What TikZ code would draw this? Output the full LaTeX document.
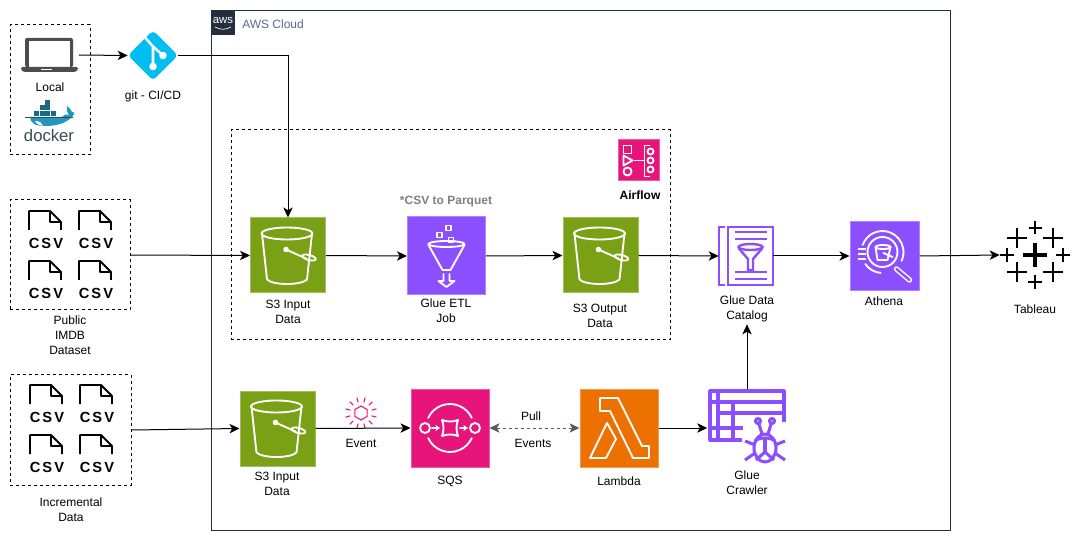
\documentclass[tikz,border=0pt]{standalone}
\usepackage{fontspec}
\setmainfont{Liberation Sans}
\newfontfamily\csvfont[LetterSpace=14]{Liberation Sans}
\usetikzlibrary{arrows.meta}

\definecolor{awsdark}{HTML}{232F3E}
\definecolor{awsgray}{HTML}{5A6B86}
\definecolor{s3green}{HTML}{7AA116}
\definecolor{gluepurple}{HTML}{8C4FFF}
\definecolor{sqspink}{HTML}{E7157B}
\definecolor{lambdaorange}{HTML}{ED7100}
\definecolor{gitblue}{HTML}{00BDF2}
\definecolor{laptopgray}{HTML}{4D4D4D}
\definecolor{whaleblue}{HTML}{2396C0}
\definecolor{dockertext}{HTML}{394D54}
\definecolor{pullgray}{HTML}{545B64}

\tikzset{
    lbl/.style={align=center,inner sep=1.5pt,font=\fontsize{9}{11.25}\selectfont},
    iconbox/.style 2 args={minimum size=#1*0.75pt,inner sep=0pt,fill=#2,draw=#2!70!white,line width=.75pt},
    spacer/.style 2 args={minimum width=#1*0.75pt,minimum height=#2*0.75pt,inner sep=0pt},
    flow/.style={line width=.75pt,-{Stealth[length=7.5pt,width=7pt,inset=2pt]}},
    dashbox/.style={draw,dash pattern=on 2.25pt off 2.25pt,line width=.75pt},
    whiteline/.style={draw=white,line width=1.4pt,line join=round,line cap=round},
    purpleline/.style={draw=gluepurple,line width=1.8pt,line join=miter},
    crawlerline/.style={draw=gluepurple,line width=2.3pt,line join=round},
    bucket/.pic={
        \draw[whiteline] (-26,-22) -- (-21,24) .. controls (-15,30) and (13,30) .. (19,24) -- (24,-22);
        \draw[whiteline] (-1,-22) ellipse [x radius=25.5,y radius=6];
        \fill[white] (-2,-6) circle [radius=2.8];
        \draw[whiteline] (-2,-6) -- (18,3);
        \draw[whiteline,shift={(21,2)},rotate=-15] (0,0) ellipse [x radius=7,y radius=2.5];
    },
    funnel/.pic={
        \draw[whiteline] (0,-12) ellipse [x radius=18,y radius=3];
        \draw[whiteline] (-18,-11) -- (-4,14) -- (4,14) -- (18,-11);
        \draw[whiteline] (-3,18) -- (-3,25) -- (-8,25) -- (0,31) -- (8,25) -- (3,25) -- (3,18);
        \foreach \sx/\sy in {-7/-21,2/-28,4.5/-16}
            \draw[whiteline] (\sx-2.5,\sy-2.5) rectangle (\sx+2.5,\sy+2.5);
    },
    airflowicon/.pic={
        \draw[whiteline] (-15,-15) rectangle (-7,-7);
        \draw[whiteline] (-15,-5) -- (-6,0) -- (-15,5) -- cycle;
        \draw[whiteline] (-11,11) circle [radius=4];
        \draw[whiteline] (-4,0) -- (5,0);
        \draw[whiteline] (11,-15) -- (6,-15) -- (6,16) -- (11,16);
        \foreach \sy in {-9,0,9}
            \draw[whiteline] (12,\sy) circle [radius=3];
    },
    catalogicon/.pic={
        \draw[purpleline] (-21,-29) -- (-27,-29) -- (-27,29) -- (-21,29);
        \draw[purpleline] (-18,-29) rectangle (27,29);
        \foreach \sy in {-24,-17,16,23}
            \draw[purpleline] (-11,\sy) -- (21,\sy);
        \draw[purpleline] (4.5,-9) ellipse [x radius=12,y radius=3];
        \draw[purpleline] (-7.5,-8) -- (2,3) -- (2,14) -- (7,14) -- (7,3) -- (16.5,-8);
    },
    athenaicon/.pic={
        \draw[whiteline] (-2,-4) circle [radius=15];
        \draw[whiteline] (-2,-4) ++(200:21) arc [start angle=200,end angle=385,radius=21];
        \draw[whiteline] (-2,-4) ++(95:21) arc [start angle=95,end angle=145,radius=21];
        \foreach \sy in {-7,-2,3}
            \draw[whiteline] (-26,\sy) -- (-19,\sy);
        \draw[whiteline] (-9,-9) -- (-7,4) -- (3,4) -- (6,-9);
        \draw[whiteline] (-1.5,-9) ellipse [x radius=7.5,y radius=2];
        \draw[whiteline] (-1,-3) -- (8,1);
        \draw[white,line width=4pt,line cap=round] (12,13) -- (25,24);
        \draw[gluepurple,line width=1.8pt,line cap=round] (12,13) -- (25,24);
    },
    sqsicon/.pic={
        \draw[whiteline] (0,0) ++(205:24) arc [start angle=205,end angle=335,radius=24];
        \draw[whiteline] (0,0) ++(155:24) arc [start angle=155,end angle=25,radius=24];
        \draw[whiteline] (-25,0) circle [radius=5];
        \draw[whiteline] (25,0) circle [radius=5];
        \draw[whiteline,-{Stealth[length=3.5pt,width=4.5pt]}] (-18,0) -- (-10,0);
        \draw[whiteline,-{Stealth[length=3.5pt,width=4.5pt]}] (10,0) -- (18,0);
        \draw[whiteline] (-8,-8) .. controls (-3,-6) and (3,-6) .. (8,-8)
            .. controls (6,-3) and (6,3) .. (8,8)
            .. controls (3,6) and (-3,6) .. (-8,8)
            .. controls (-6,3) and (-6,-3) .. (-8,-8) -- cycle;
    },
    lambdaicon/.pic={
        \draw[whiteline] (-19,-30) -- (-1,-30) -- (23,18) -- (30,18) -- (30,30) -- (14,30) -- (-9,-17) -- (-19,-17) -- cycle;
        \draw[whiteline] (-12,-5) -- (-3,11) -- (-13,30) -- (-29,30) -- cycle;
    },
    crawlericon/.pic={
        \draw[crawlerline] (37,-6) -- (37,-37) -- (-37,-37) -- (-37,12) -- (-5,12);
        \draw[crawlerline] (-37,-26) -- (37,-26);
        \draw[crawlerline] (-29,-15) -- (37,-15);
        \draw[crawlerline] (-37,0) -- (-4,0);
        \draw[crawlerline] (-29,-37) -- (-29,12);
        \draw[crawlerline] (-14,-26) -- (-14,12);
        \draw[crawlerline] (18,20) ellipse [x radius=11,y radius=14];
        \draw[crawlerline] (8,13) .. controls (12,9) and (24,9) .. (28,13);
        \draw[crawlerline] (18,24) -- (9,32);
        \draw[crawlerline] (18,24) -- (27,32);
        \draw[crawlerline] (18,11) -- (18,24);
        \foreach \sg in {-1,1} {
            \draw[crawlerline] (18+\sg*7,-7) circle [radius=2.5];
            \draw[crawlerline] (18+\sg*6,-4) -- (18+\sg*3,6);
            \draw[crawlerline] (18+\sg*20,13) -- (18+\sg*10,17);
            \draw[crawlerline] (18+\sg*20,32) -- (18+\sg*10,25);
        }
    },
    csvdoc/.pic={
        \draw[line width=1.4pt,line join=round] (-16,-2) -- (-16,-21) -- (5,-21) -- (16,-10) -- (16,-2);
        \draw[line width=1.4pt,line join=round] (5,-21) -- (5,-10) -- (16,-10);
        \node (-txt) at (1,11) [inner sep=0pt,font=\csvfont\bfseries\fontsize{11}{11}\selectfont] {CSV};
    },
    laptop/.pic={
        \fill[laptopgray,rounded corners=1.5pt] (-25,-17) rectangle (23,12);
        \fill[white] (-21,-14) rectangle (20,12);
        \fill[laptopgray,rounded corners=1.5pt] (-29,12) -- (28,12) -- (28,15) -- (26,17) -- (-27,17) -- (-29,15) -- cycle;
        \fill[white] (-9,14) rectangle (2,15.5);
    },
    gitlogo/.pic={
        \fill[gitblue,rounded corners=3pt] (-25,0) -- (0,-25) -- (25,0) -- (0,25) -- cycle;
        \draw[white,line width=1.9pt] (-8,-18) -- (0,-9) -- (0,11);
        \draw[white,line width=1.9pt] (0,-9) -- (10,0);
        \fill[white] (0,11) circle [radius=3.8];
        \fill[white] (10,0) circle [radius=3.8];
    },
    whale/.pic={
        % containers on the back
        \foreach \sx/\sy in {-15/-5,-9.5/-5,-4/-5,1.5/-5,-9.5/-10.5,-4/-10.5,-4/-16}
            \fill[whaleblue!70!black] (\sx,\sy) rectangle (\sx+5,\sy+5);
        % body and tail
        \fill[whaleblue] (-19,1) -- (13,1) .. controls (16,-2) and (18,-2) .. (20,-1)
            .. controls (18,-4) and (17,-7) .. (18,-10) .. controls (20,-8) and (22,-7) .. (23,-4)
            .. controls (25,-4) and (27,-4) .. (23,1)
            .. controls (17,7) and (8,10) .. (-4,10) .. controls (-14,10) and (-19,7) .. (-19,1) -- cycle;
        \fill[white] (-14,5) .. controls (-9,5) and (-7,7) .. (-6,10) .. controls (-9,10) and (-12,8) .. (-14,5) -- cycle;
        \draw[dockertext,line width=.3pt] (-24,1) -- (24,1);
    },
    tableaulogo/.pic={
        \foreach \sx/\sy/\sa/\sw in {0/0/12/2.6,-18/-17/10/2.2,18/-17/10/2.2,-18/17/10/2.2,18/17/10/2.2,0/-27/6.5/1.2,0/27/7/1.7,-28/0/7/1.2,28/0/7/1.7} {
            \draw[line width=\sw pt] (\sx-\sa,\sy) -- (\sx+\sa,\sy);
            \draw[line width=\sw pt] (\sx,\sy-\sa) -- (\sx,\sy+\sa);
        }
    },
    eventicon/.pic={
        \draw[sqspink,line width=.8pt] (30:7) -- (90:7) -- (150:7) -- (210:7) -- (270:7) -- (330:7) -- cycle;
        \foreach \sa in {0,30,...,330}
            \draw[sqspink,line width=.8pt] (\sa+15:11) -- (\sa+15:16);
    }
}

\begin{document}
\begin{tikzpicture}[x=0.75pt,y=-0.75pt]
    \fill[white] (0,0) rectangle (1081,541);
    \useasboundingbox (0,0) rectangle (1081,541);

    % The cloud frame and its badge
    \draw[awsdark,line width=.75pt] (211,11) rectangle (950,530);
    \node (awsbadge) at (223,23) [minimum size=24*0.75pt,inner sep=0pt,fill=awsdark] {};
    \node (awslogo) at (223,20.5) [inner sep=0pt,text=white,font=\fontsize{8.5}{8.5}\selectfont] {aws};
    \draw[white,line width=.5pt] (215,27) .. controls (220,30) and (226,30) .. (231,27);
    \node (awstitle) at (242,24) [lbl,anchor=west,inner sep=0pt,text=awsgray] {AWS Cloud};

    % The dashed groups
    \node (localbox) at (50,90) [dashbox,spacer={80}{130}] {};
    \node (publicbox) at (70,255) [dashbox,spacer={120}{110}] {};
    \node (incrbox) at (70.5,430) [dashbox,spacer={121}{110}] {};
    \node (airflowbox) at (450.5,235) [dashbox,spacer={439}{210}] {};

    % Place the service boxes
    \node (laptopnode) at (50,55) [spacer={57}{35}] {};
    \node (git) at (153,55.5) [spacer={50}{50}] {};
    \node (s3in) at (288,255.5) [iconbox={75}{s3green}] {};
    \node (glueetl) at (446.5,256) [iconbox={78}{gluepurple}] {};
    \node (s3out) at (600.5,255.5) [iconbox={75}{s3green}] {};
    \node (airflow) at (638.5,160.5) [iconbox={41}{sqspink}] {};
    \node (catalog) at (746,256) [spacer={54}{59}] {};
    \node (athena) at (884.5,256) [iconbox={69}{gluepurple}] {};
    \node (tableau) at (1035,255) [spacer={70}{70}] {};
    \node (s3incr) at (277.5,428.5) [iconbox={75}{s3green}] {};
    \node (sqs) at (450,428) [iconbox={78}{sqspink}] {};
    \node (lambda) at (619,428) [iconbox={78}{lambdaorange}] {};
    \node (crawler) at (747,428) [spacer={79}{78}] {};

    % Draw the icons on top of the boxes
    \pic at (laptopnode) {laptop};
    \pic at (49,116) {whale};
    \node (dockerword) at (49,135.5) [inner sep=0pt,text=dockertext,font=\fontsize{12.5}{12.5}\selectfont] {docker};
    \pic at (git) {gitlogo};
    \pic at (s3in) {bucket};
    \pic at (glueetl) {funnel};
    \pic at (s3out) {bucket};
    \pic at (airflow) {airflowicon};
    \pic at (catalog) {catalogicon};
    \pic at (athena) {athenaicon};
    \pic at (tableau) {tableaulogo};
    \pic at (s3incr) {bucket};
    \pic at (sqs) {sqsicon};
    \pic at (lambda) {lambdaicon};
    \pic at (crawler) {crawlericon};
    \pic at (361,413) {eventicon};
    \pic (csva) at (45,232) {csvdoc};
    \pic (csvb) at (95,232) {csvdoc};
    \pic (csvc) at (45,282) {csvdoc};
    \pic (csvd) at (95,282) {csvdoc};
    \pic (csve) at (46,406) {csvdoc};
    \pic (csvf) at (96,406) {csvdoc};
    \pic (csvg) at (46,456) {csvdoc};
    \pic (csvh) at (96,456) {csvdoc};

    % Place the labels
    \node (locallbl) at (50,87) [lbl] {Local};
    \node (gitlbl) at (153,96) [lbl] {git - CI/CD};
    \node (publiclbl) at (70,335) [lbl] {Public\\IMDB\\Dataset};
    \node (incrlbl) at (71,509.5) [lbl] {Incremental\\Data};
    \node (s3inlbl) at (288,312) [lbl] {S3 Input\\Data};
    \node (gluelbl) at (446,310.5) [lbl] {Glue ETL\\Job};
    \node (parquetlbl) at (446,202) [lbl,text=black!50,font=\fontsize{9}{11.25}\selectfont\bfseries] {*CSV to Parquet};
    \node (s3outlbl) at (600,315.5) [lbl] {S3 Output\\Data};
    \node (airflowlbl) at (640,195) [lbl,font=\fontsize{9}{11.25}\selectfont\bfseries] {Airflow};
    \node (cataloglbl) at (747,309) [lbl] {Glue Data\\Catalog};
    \node (athenalbl) at (884,301) [lbl] {Athena};
    \node (tableaulbl) at (1035,309) [lbl] {Tableau};
    \node (s3incrlbl) at (277,483.5) [lbl] {S3 Input\\Data};
    \node (eventlbl) at (361,443) [lbl] {Event};
    \node (sqslbl) at (450,481) [lbl] {SQS};
    \node (pulllbl) at (531,416) [lbl] {Pull};
    \node (eventslbl) at (533,443) [lbl] {Events};
    \node (lambdalbl) at (619,481) [lbl] {Lambda};
    \node (crawlerlbl) at (747,482.5) [lbl] {Glue\\Crawler};

    % Draw the connectors
    \draw[flow] (laptopnode.east) -- (git.west);
    \draw[flow] (git.east) -| (s3in.north);
    \draw[flow] (publicbox.east) -- (s3in.west);
    \draw[flow] (s3in.east) -- (glueetl.west);
    \draw[flow] (glueetl.east) -- (s3out.west);
    \draw[flow] (s3out.east) -- (catalog.west);
    \draw[flow] (catalog.east) -- (athena.west);
    \draw[flow] (athena.east) -- (tableau.west);
    \draw[flow] (incrbox.east) -- (s3incr.west);
    \draw[flow] (s3incr.east) -- (sqs.west);
    \draw[line width=.75pt,dash pattern=on 2.25pt off 2.25pt,draw=pullgray,{Stealth[length=7.5pt,width=7pt,inset=2pt]}-{Stealth[length=7.5pt,width=7pt,inset=2pt]}] (sqs.east) -- (lambda.west);
    \draw[flow] (lambda.east) -- (crawler.west);
    \draw[flow] (crawler.north) -- (cataloglbl.south);
\end{tikzpicture}
\end{document}
